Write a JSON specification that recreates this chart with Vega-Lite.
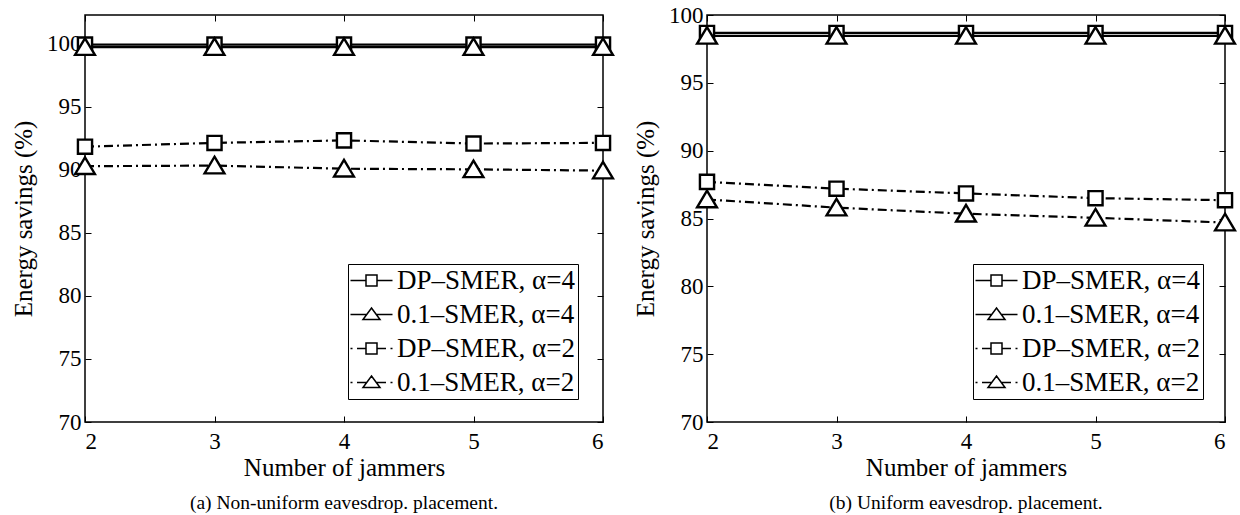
{
  "$schema": "https://vega.github.io/schema/vega-lite/v6.json",
  "background": "white",
  "padding": {"left": 10, "top": 3, "right": 5, "bottom": 5},
  "spacing": 13,
  "resolve": {"scale": {"shape": "independent"}, "legend": {"shape": "independent"}},
  "config": {
    "font": "Liberation Serif",
    "view": {"stroke": "black", "strokeWidth": 1.5},
    "axis": {
      "grid": false, "domain": false,
      "tickColor": "black", "tickWidth": 1, "tickSize": -6,
      "labelFont": "Liberation Serif", "labelFontSize": 23, "labelColor": "black",
      "titleFont": "Liberation Serif", "titleFontSize": 25, "titleFontWeight": "normal", "titleColor": "black"
    },
    "title": {"font": "Liberation Serif", "fontSize": 19.5, "fontWeight": "normal", "color": "black"},
    "legend": {
      "labelFont": "Liberation Serif", "labelFontSize": 27, "labelColor": "black", "labelLimit": 400,
      "fillColor": "white", "strokeColor": "black", "padding": 3, "rowPadding": 6
    }
  },
  "datasets": {
    "left": [
      {"jammers": 2, "savings": 99.95, "series": "DP–SMER, α=4", "alpha": 4},
      {"jammers": 3, "savings": 99.95, "series": "DP–SMER, α=4", "alpha": 4},
      {"jammers": 4, "savings": 99.95, "series": "DP–SMER, α=4", "alpha": 4},
      {"jammers": 5, "savings": 99.95, "series": "DP–SMER, α=4", "alpha": 4},
      {"jammers": 6, "savings": 99.95, "series": "DP–SMER, α=4", "alpha": 4},
      {"jammers": 2, "savings": 99.75, "series": "0.1–SMER, α=4", "alpha": 4},
      {"jammers": 3, "savings": 99.75, "series": "0.1–SMER, α=4", "alpha": 4},
      {"jammers": 4, "savings": 99.75, "series": "0.1–SMER, α=4", "alpha": 4},
      {"jammers": 5, "savings": 99.75, "series": "0.1–SMER, α=4", "alpha": 4},
      {"jammers": 6, "savings": 99.75, "series": "0.1–SMER, α=4", "alpha": 4},
      {"jammers": 2, "savings": 91.85, "series": "DP–SMER, α=2", "alpha": 2},
      {"jammers": 3, "savings": 92.15, "series": "DP–SMER, α=2", "alpha": 2},
      {"jammers": 4, "savings": 92.35, "series": "DP–SMER, α=2", "alpha": 2},
      {"jammers": 5, "savings": 92.1, "series": "DP–SMER, α=2", "alpha": 2},
      {"jammers": 6, "savings": 92.15, "series": "DP–SMER, α=2", "alpha": 2},
      {"jammers": 2, "savings": 90.3, "series": "0.1–SMER, α=2", "alpha": 2},
      {"jammers": 3, "savings": 90.35, "series": "0.1–SMER, α=2", "alpha": 2},
      {"jammers": 4, "savings": 90.1, "series": "0.1–SMER, α=2", "alpha": 2},
      {"jammers": 5, "savings": 90.05, "series": "0.1–SMER, α=2", "alpha": 2},
      {"jammers": 6, "savings": 89.95, "series": "0.1–SMER, α=2", "alpha": 2}
    ],
    "right": [
      {"jammers": 2, "savings": 98.68, "series": "DP–SMER, α=4", "alpha": 4},
      {"jammers": 3, "savings": 98.68, "series": "DP–SMER, α=4", "alpha": 4},
      {"jammers": 4, "savings": 98.68, "series": "DP–SMER, α=4", "alpha": 4},
      {"jammers": 5, "savings": 98.68, "series": "DP–SMER, α=4", "alpha": 4},
      {"jammers": 6, "savings": 98.68, "series": "DP–SMER, α=4", "alpha": 4},
      {"jammers": 2, "savings": 98.46, "series": "0.1–SMER, α=4", "alpha": 4},
      {"jammers": 3, "savings": 98.46, "series": "0.1–SMER, α=4", "alpha": 4},
      {"jammers": 4, "savings": 98.46, "series": "0.1–SMER, α=4", "alpha": 4},
      {"jammers": 5, "savings": 98.46, "series": "0.1–SMER, α=4", "alpha": 4},
      {"jammers": 6, "savings": 98.46, "series": "0.1–SMER, α=4", "alpha": 4},
      {"jammers": 2, "savings": 87.7, "series": "DP–SMER, α=2", "alpha": 2},
      {"jammers": 3, "savings": 87.2, "series": "DP–SMER, α=2", "alpha": 2},
      {"jammers": 4, "savings": 86.85, "series": "DP–SMER, α=2", "alpha": 2},
      {"jammers": 5, "savings": 86.5, "series": "DP–SMER, α=2", "alpha": 2},
      {"jammers": 6, "savings": 86.35, "series": "DP–SMER, α=2", "alpha": 2},
      {"jammers": 2, "savings": 86.4, "series": "0.1–SMER, α=2", "alpha": 2},
      {"jammers": 3, "savings": 85.8, "series": "0.1–SMER, α=2", "alpha": 2},
      {"jammers": 4, "savings": 85.35, "series": "0.1–SMER, α=2", "alpha": 2},
      {"jammers": 5, "savings": 85.05, "series": "0.1–SMER, α=2", "alpha": 2},
      {"jammers": 6, "savings": 84.7, "series": "0.1–SMER, α=2", "alpha": 2}
    ]
  },
  "hconcat": [
    {
      "width": 518, "height": 407,
      "data": {"name": "left"},
      "title": {"text": "(a) Non-uniform eavesdrop. placement.", "orient": "bottom", "offset": 14},
      "encoding": {
        "x": {"field": "jammers", "type": "quantitative", "scale": {"domain": [2, 6], "nice": false, "zero": false},
              "axis": {"values": [2, 3, 4, 5, 6], "format": "d", "title": "Number of jammers", "labelPadding": 14, "titlePadding": 2}},
        "y": {"field": "savings", "type": "quantitative", "scale": {"domain": [70, 102.3], "nice": false, "zero": false},
              "axis": {"values": [70, 75, 80, 85, 90, 95, 100], "title": "Energy savings (%)", "labelPadding": 10, "titlePadding": 10}}
      },
      "layer": [
        {
          "transform": [{"filter": "datum.alpha === 4"}],
          "mark": {"type": "line", "color": "black", "strokeWidth": 2.2},
          "encoding": {"detail": {"field": "series", "type": "nominal"}}
        },
        {
          "transform": [{"filter": "datum.alpha === 2"}],
          "mark": {"type": "line", "color": "black", "strokeWidth": 2.2, "strokeDash": [9, 4, 2, 4]},
          "encoding": {
            "x": {"field": "jammers", "type": "quantitative", "axis": null},
            "y": {"field": "savings", "type": "quantitative", "axis": null},
            "detail": {"field": "series", "type": "nominal"}
          }
        },
        {
          "mark": {"type": "point", "filled": true, "fill": "white", "stroke": "black", "strokeWidth": 2.4, "size": 200, "opacity": 1},
          "encoding": {
            "x": {"field": "jammers", "type": "quantitative", "axis": {"orient": "top", "values": [2, 3, 4, 5, 6], "labels": false, "title": null}},
            "y": {"field": "savings", "type": "quantitative", "axis": {"orient": "right", "values": [70, 75, 80, 85, 90, 95, 100], "labels": false, "title": null}},
            "shape": {"field": "series", "type": "nominal",
              "scale": {"domain": ["DP–SMER, α=4", "0.1–SMER, α=4", "DP–SMER, α=2", "0.1–SMER, α=2"], "range": ["square", "M0,-1.25L1.4,1.1L-1.4,1.1Z", "square", "M0,-1.25L1.4,1.1L-1.4,1.1Z"]},
              "legend": null}
          }
        },
        {
          "mark": {"type": "point", "filled": true, "fill": "white", "stroke": "black", "strokeWidth": 2, "size": 0, "opacity": 1},
          "encoding": {
            "x": {"field": "jammers", "type": "quantitative", "axis": null},
            "y": {"field": "savings", "type": "quantitative", "axis": null},
            "shape": {"field": "series", "type": "nominal",
              "scale": {"domain": ["DP–SMER, α=4", "0.1–SMER, α=4", "DP–SMER, α=2", "0.1–SMER, α=2"],
                        "range": ["M-4.2,0H-1.1M1.1,0H4.2M-1.1,-1.1H1.1V1.1H-1.1Z", "M-4.2,0H-0.96M0.96,0H4.2M0,-1.3L1.7,1H-1.7Z", "M-4.2,0H-3.8M-2.9,0H-1.1M1.1,0H2.9M3.8,0H4.2M-1.1,-1.1H1.1V1.1H-1.1Z", "M-4.2,0H-3.8M-2.9,0H-0.96M0.96,0H2.9M3.8,0H4.2M0,-1.3L1.7,1H-1.7Z"]},
              "legend": {"title": null, "orient": "none", "legendX": 263, "legendY": 249, "symbolOffset": 7, "labelOffset": 12}}
          }
        }
      ],
      "resolve": {"axis": {"x": "independent", "y": "independent"}, "scale": {"shape": "independent"}, "legend": {"shape": "independent"}}
    },
    {
      "width": 518, "height": 407,
      "data": {"name": "right"},
      "title": {"text": "(b) Uniform eavesdrop. placement.", "orient": "bottom", "offset": 14},
      "encoding": {
        "x": {"field": "jammers", "type": "quantitative", "scale": {"domain": [2, 6], "nice": false, "zero": false},
              "axis": {"values": [2, 3, 4, 5, 6], "format": "d", "title": "Number of jammers", "labelPadding": 14, "titlePadding": 2}},
        "y": {"field": "savings", "type": "quantitative", "scale": {"domain": [70, 100], "nice": false, "zero": false},
              "axis": {"values": [70, 75, 80, 85, 90, 95, 100], "title": "Energy savings (%)", "labelPadding": 10, "titlePadding": 10}}
      },
      "layer": [
        {
          "transform": [{"filter": "datum.alpha === 4"}],
          "mark": {"type": "line", "color": "black", "strokeWidth": 2.2},
          "encoding": {"detail": {"field": "series", "type": "nominal"}}
        },
        {
          "transform": [{"filter": "datum.alpha === 2"}],
          "mark": {"type": "line", "color": "black", "strokeWidth": 2.2, "strokeDash": [9, 4, 2, 4]},
          "encoding": {
            "x": {"field": "jammers", "type": "quantitative", "axis": null},
            "y": {"field": "savings", "type": "quantitative", "axis": null},
            "detail": {"field": "series", "type": "nominal"}
          }
        },
        {
          "mark": {"type": "point", "filled": true, "fill": "white", "stroke": "black", "strokeWidth": 2.4, "size": 200, "opacity": 1},
          "encoding": {
            "x": {"field": "jammers", "type": "quantitative", "axis": {"orient": "top", "values": [2, 3, 4, 5, 6], "labels": false, "title": null}},
            "y": {"field": "savings", "type": "quantitative", "axis": {"orient": "right", "values": [70, 75, 80, 85, 90, 95, 100], "labels": false, "title": null}},
            "shape": {"field": "series", "type": "nominal",
              "scale": {"domain": ["DP–SMER, α=4", "0.1–SMER, α=4", "DP–SMER, α=2", "0.1–SMER, α=2"], "range": ["square", "M0,-1.25L1.4,1.1L-1.4,1.1Z", "square", "M0,-1.25L1.4,1.1L-1.4,1.1Z"]},
              "legend": null}
          }
        },
        {
          "mark": {"type": "point", "filled": true, "fill": "white", "stroke": "black", "strokeWidth": 2, "size": 0, "opacity": 1},
          "encoding": {
            "x": {"field": "jammers", "type": "quantitative", "axis": null},
            "y": {"field": "savings", "type": "quantitative", "axis": null},
            "shape": {"field": "series", "type": "nominal",
              "scale": {"domain": ["DP–SMER, α=4", "0.1–SMER, α=4", "DP–SMER, α=2", "0.1–SMER, α=2"],
                        "range": ["M-4.2,0H-1.1M1.1,0H4.2M-1.1,-1.1H1.1V1.1H-1.1Z", "M-4.2,0H-0.96M0.96,0H4.2M0,-1.3L1.7,1H-1.7Z", "M-4.2,0H-3.8M-2.9,0H-1.1M1.1,0H2.9M3.8,0H4.2M-1.1,-1.1H1.1V1.1H-1.1Z", "M-4.2,0H-3.8M-2.9,0H-0.96M0.96,0H2.9M3.8,0H4.2M0,-1.3L1.7,1H-1.7Z"]},
              "legend": {"title": null, "orient": "none", "legendX": 266, "legendY": 249, "symbolOffset": 7, "labelOffset": 12}}
          }
        }
      ],
      "resolve": {"axis": {"x": "independent", "y": "independent"}, "scale": {"shape": "independent"}, "legend": {"shape": "independent"}}
    }
  ]
}
